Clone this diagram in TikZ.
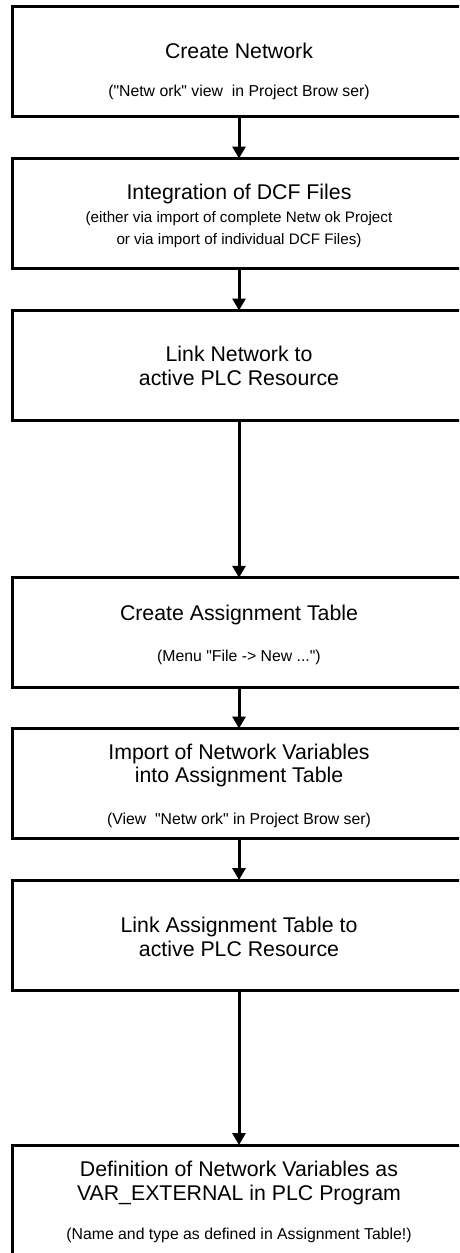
\documentclass[tikz,border=0pt]{standalone}
\usepackage{fontspec}
\setmainfont{Liberation Sans}
\usetikzlibrary{arrows.meta}
\begin{document}
\begin{tikzpicture}[x=1pt,y=-1pt,
  stepbox/.style={draw, line width=3pt, minimum width=453pt, minimum height=110pt, inner sep=0pt, outer sep=0pt},
  big/.style={anchor=base, font=\fontsize{21.3}{24}\selectfont, inner sep=0pt},
  small/.style={anchor=base, font=\fontsize{15.8}{18}\selectfont, inner sep=0pt},
  smaller/.style={anchor=base, font=\fontsize{15.2}{18}\selectfont, inner sep=0pt},
  flow/.style={line width=3pt, -{Triangle[length=12pt,width=13pt]}}]
\useasboundingbox (0,0) rectangle (459,1253);
\clip (0,0) rectangle (459,1253);
% boxes
\node[stepbox] (b1) at (239,61) {};
\node[stepbox] (b2) at (239,213.5) {};
\node[stepbox] (b3) at (239,365.5) {};
\node[stepbox] (b4) at (239,632.75) {};
\node[stepbox] (b5) at (239,783.5) {};
\node[stepbox] (b6) at (239,935) {};
\node[stepbox] (b7) at (239,1200) {};
% texts
\node[big] (t1a) at (239,58.5) {Create Network};
\node[small] (t1b) at (239,96) {(\textquotedbl Netw ork\textquotedbl\ view\ \ in Project Brow ser)};
\node[big] (t2a) at (239,199) {Integration of DCF Files};
\node[smaller] (t2b) at (239,222) {(either via import of complete Netw ok Project};
\node[smaller] (t2c) at (239,244) {or via import of individual DCF Files)};
\node[big] (t3a) at (239,361.5) {Link Network to};
\node[big] (t3b) at (239,385) {active PLC Resource};
\node[big] (t4a) at (239,620) {Create Assignment Table};
\node[small] (t4b) at (239,661.5) {(Menu \textquotedbl File -> New ...\textquotedbl)};
\node[big] (t5a) at (239,759) {Import of Network Variables};
\node[big] (t5b) at (239,782.5) {into Assignment Table};
\node[small] (t5c) at (239,824) {(View\ \ \textquotedbl Netw ork\textquotedbl\ in Project Brow ser)};
\node[big] (t6a) at (239,932.5) {Link Assignment Table to};
\node[big] (t6b) at (239,956) {active PLC Resource};
\node[big] (t7a) at (239,1176) {Definition of Network Variables as};
\node[big] (t7b) at (239,1200) {VAR\_EXTERNAL in PLC Program};
\node[small] (t7c) at (239,1239) {(Name and type as defined in Assignment Table!)};
% connectors
\draw[flow] (b1.south) -- (b2.north);
\draw[flow] (b2.south) -- (b3.north);
\draw[flow] (b3.south) -- (b4.north);
\draw[flow] (b4.south) -- (b5.north);
\draw[flow] (b5.south) -- (b6.north);
\draw[flow] (b6.south) -- (b7.north);
\end{tikzpicture}
\end{document}
